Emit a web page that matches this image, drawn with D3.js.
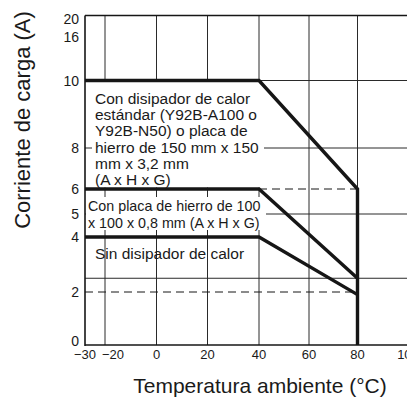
<!DOCTYPE html>
<html><head><meta charset="utf-8">
<script src="https://cdn.jsdelivr.net/npm/d3@7/dist/d3.min.js"></script>
<style>body{margin:0;background:#fff}svg{display:block}text{font-family:"Liberation Sans",Arial,sans-serif;fill:#1a1a1a}</style>
</head><body><svg id="c" width="407" height="404"></svg>
<script>
// axis stops (hand-drawn, non-uniform axes)
const xStops = [-30, -20, 0, 20, 40, 60, 80, 100];
const yStops = [0, 2, 4, 5, 6, 8, 10, 16, 20];
const xTickLabels = ["\u221230", "\u221220", "0", "20", "40", "60", "80", "100"];
const yTickValues = [0, 2, 4, 5, 6, 8, 10, 16, 20];
const xGrid = [-20, 0, 20, 40, 60, 80, 100];
const yGrid = [10, 8, 5, 2.5];

// derating curves: [temperature, current]
const curveHeatsink = [[-30, 10], [40, 10], [80, 6], [80, 0]];
const curvePlate = [[-30, 6], [40, 6], [80, 2.5]];
const curveNone = [[-30, 4], [40, 4], [80, 1.9]];
const dashed = [[[-30, 2], [80, 2]], [[40, 6], [80, 6]]];

const labelHeatsink = ["Con disipador de calor", "estándar (Y92B-A100 o", "Y92B-N50) o placa de", "hierro de 150 mm x 150", "mm x 3,2 mm", "(A x H x G)"];
const labelPlate = ["Con placa de hierro de 100", "x 100 x 0,8 mm (A x H x G)"];
const labelNone = ["Sin disipador de calor"];

const svg = d3.select("#c");
const x = d3.scaleLinear().domain(xStops).range([85, 105, 156.5, 207.5, 259, 309, 357.5, 408]);
const y = d3.scaleLinear().domain(yStops).range([345, 292, 237, 214, 189, 148, 80.5, 37, 15.5]);
const line = d3.line().x(d => x(d[0])).y(d => y(d[1]));
const ink = "#161616";

// grid
svg.append("g").selectAll("line").data(xGrid).join("line")
  .attr("x1", d => x(d)).attr("x2", d => x(d)).attr("y1", y(0)).attr("y2", y(20))
  .attr("stroke", "#2a2a2a").attr("stroke-width", 1);
svg.append("g").selectAll("line").data(yGrid).join("line")
  .attr("x1", x(-30)).attr("x2", x(100) + 5).attr("y1", d => y(d)).attr("y2", d => y(d))
  .attr("stroke", "#2a2a2a").attr("stroke-width", 1);

// white label backgrounds
svg.append("rect").attr("x", 92).attr("y", y(10) + 1.5).attr("width", 172).attr("height", y(6) - y(10) - 3).attr("fill", "#fff");
svg.append("rect").attr("x", x(-30) + 1).attr("y", y(6) + 8).attr("width", 180).attr("height", y(4) - y(6) - 15).attr("fill", "#fff");

// dashed
svg.append("g").selectAll("path").data(dashed).join("path")
  .attr("d", line).attr("fill", "none").attr("stroke", ink).attr("stroke-width", 1).attr("stroke-dasharray", "8,5");

// frame
svg.append("line").attr("x1", x(-30)).attr("x2", x(-30)).attr("y1", y(0) + 1).attr("y2", y(20)).attr("stroke", ink).attr("stroke-width", 1.6);
svg.append("line").attr("x1", x(-30)).attr("x2", 410).attr("y1", y(0)).attr("y2", y(0)).attr("stroke", ink).attr("stroke-width", 1.6);
svg.append("line").attr("x1", x(-30)).attr("x2", 410).attr("y1", y(20)).attr("y2", y(20)).attr("stroke", ink).attr("stroke-width", 1.6);

// curves
[curveHeatsink, curvePlate, curveNone].forEach(c => {
  svg.append("path").attr("d", line(c)).attr("fill", "none").attr("stroke", ink)
    .attr("stroke-width", 3.4).attr("stroke-linejoin", "miter");
});

// tick labels
svg.append("g").selectAll("text").data(yTickValues).join("text")
  .attr("x", 79).attr("y", d => Math.min(Math.max(y(d), 19), 341) + 5).attr("text-anchor", "end")
  .attr("font-size", 14).text(d => d);
svg.append("g").selectAll("text").data(xStops).join("text")
  .attr("x", (d, i) => x(d) + (i === 1 ? 8 : 0)).attr("y", 359).attr("text-anchor", "middle")
  .attr("font-size", 13).text((d, i) => xTickLabels[i]);

// annotation blocks
function block(lines, x0, y0, lh, fs) {
  svg.append("g").selectAll("text").data(lines).join("text")
    .attr("x", x0).attr("y", (d, i) => y0 + i * lh).attr("font-size", fs).text(d => d);
}
block(labelHeatsink, 95, 104, 16.2, 15.5);
block(labelPlate, 88, 210.5, 17, 14.3);
block(labelNone, 95, 258.5, 16, 15.5);

// axis titles
svg.append("text").attr("x", 260).attr("y", 393).attr("text-anchor", "middle").attr("font-size", 21)
  .text("Temperatura ambiente (°C)");
svg.append("text").attr("transform", "translate(30,120) rotate(-90)").attr("text-anchor", "middle")
  .attr("font-size", 22).text("Corriente de carga (A)");
</script></body></html>
